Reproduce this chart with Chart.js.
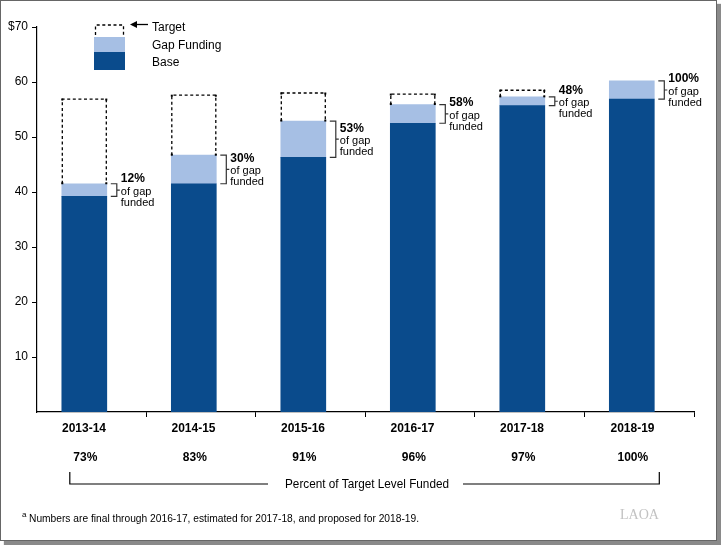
<!DOCTYPE html>
<html>
<head>
<meta charset="utf-8">
<script src="https://cdn.jsdelivr.net/npm/chart.js@4.4.1/dist/chart.umd.min.js"></script>
<style>
  body { margin: 0; background: #fff; }
  #marco {
    position: absolute; left: 0; top: 0; width: 717px; height: 541px;
    box-sizing: border-box; border: 1px solid #666; background: #fff;
    box-shadow: 4px 4px 1px #8a8a8a;
  }
  #myChart { position: absolute; left: 0; top: 0; }
</style>
</head>
<body>
<div id="marco"></div>
<canvas id="myChart" width="721" height="545"></canvas>
<script>
// Datos (miles de millones de dolares)
const years = ['2013-14', '2014-15', '2015-16', '2016-17', '2017-18', '2018-19'];
const baseValues = [39.2, 41.5, 46.3, 52.5, 55.7, 56.9];
const gapValues = [2.3, 5.2, 6.6, 3.4, 1.6, 3.3];
const targetValues = [56.9, 57.6, 58.0, 57.8, 58.5, 60.2];
const gapFundedPct = ['12%', '30%', '53%', '58%', '48%', '100%'];
const targetFundedPct = ['73%', '83%', '91%', '96%', '97%', '100%'];
const yTicks = [10, 20, 30, 40, 50, 60, 70];

const azulOscuro = '#0a4b8c';
const azulClaro = '#a6bfe4';
const fuente = "'Liberation Sans', Arial, sans-serif";

Chart.defaults.font.family = fuente;
Chart.defaults.color = '#000';

// Dibuja la meta punteada, las llaves y los textos extra
const anotaciones = {
  id: 'anotaciones',
  afterDraw(chart) {
    const ctx = chart.ctx;
    const y = chart.scales.y;
    const gapMeta = chart.getDatasetMeta(1);
    ctx.save();

    years.forEach((year, i) => {
      const bar = gapMeta.data[i];
      const left = bar.x - bar.width / 2;
      const right = bar.x + bar.width / 2;
      const top = y.getPixelForValue(baseValues[i] + gapValues[i]);
      const bottom = y.getPixelForValue(baseValues[i]);
      const tgt = y.getPixelForValue(targetValues[i]);

      // caja punteada de la meta
      if (top - tgt > 1) {
        ctx.strokeStyle = '#000';
        ctx.lineWidth = 1.3;
        ctx.setLineDash([3, 2.6]);
        ctx.beginPath();
        ctx.moveTo(left + 0.5, top);
        ctx.lineTo(left + 0.5, tgt);
        ctx.lineTo(right - 0.5, tgt);
        ctx.lineTo(right - 0.5, top);
        ctx.stroke();
        ctx.setLineDash([]);
        ctx.fillStyle = '#000';
        [[left, tgt], [right - 1, tgt], [left, top - 1], [right - 1, top - 1]].forEach(p => {
          ctx.fillRect(p[0] - 0.5, p[1] - 0.5, 2, 2);
        });
      }

      // llave del porcentaje de brecha
      const bx = right + 4;
      const mid = (top + bottom) / 2;
      ctx.strokeStyle = '#333';
      ctx.lineWidth = 1.2;
      ctx.beginPath();
      ctx.moveTo(bx, top);
      ctx.lineTo(bx + 6, top);
      ctx.lineTo(bx + 6, bottom);
      ctx.lineTo(bx, bottom);
      ctx.moveTo(bx + 6, mid);
      ctx.lineTo(bx + 9, mid);
      ctx.stroke();

      ctx.fillStyle = '#000';
      ctx.textAlign = 'left';
      ctx.textBaseline = 'middle';
      ctx.font = 'bold 12px ' + fuente;
      ctx.fillText(gapFundedPct[i], bx + 10, mid - 11);
      ctx.font = '11px ' + fuente;
      ctx.fillText('of gap', bx + 10, mid + 2);
      ctx.fillText('funded', bx + 10, mid + 13);

      // porcentaje de la meta financiado
      ctx.textAlign = 'center';
      ctx.font = 'bold 12px ' + fuente;
      ctx.fillText(targetFundedPct[i], bar.x + 1, 458);
    });

    // corchete inferior
    const first = gapMeta.data[0];
    const last = gapMeta.data[years.length - 1];
    const bl = first.x - first.width / 2 + 8;
    const br = last.x + last.width / 2 + 5;
    ctx.strokeStyle = '#000';
    ctx.lineWidth = 1.2;
    ctx.beginPath();
    ctx.moveTo(bl, 472); ctx.lineTo(bl, 484); ctx.lineTo(268, 484);
    ctx.moveTo(463, 484); ctx.lineTo(br, 484); ctx.lineTo(br, 472);
    ctx.stroke();
    ctx.font = '12px ' + fuente;
    ctx.textAlign = 'center';
    ctx.fillText('Percent of Target Level Funded', 367, 485, 164);

    // leyenda
    ctx.setLineDash([3, 2.6]);
    ctx.lineWidth = 1.3;
    ctx.beginPath();
    ctx.moveTo(95.5, 35); ctx.lineTo(95.5, 25); ctx.lineTo(123.5, 25); ctx.lineTo(123.5, 35);
    ctx.stroke();
    ctx.setLineDash([]);
    ctx.fillStyle = azulClaro;
    ctx.fillRect(94, 37, 31, 15);
    ctx.fillStyle = azulOscuro;
    ctx.fillRect(94, 52, 31, 18);
    ctx.strokeStyle = '#000';
    ctx.beginPath();
    ctx.moveTo(148, 24.5); ctx.lineTo(135, 24.5);
    ctx.stroke();
    ctx.fillStyle = '#000';
    ctx.beginPath();
    ctx.moveTo(130, 24.5); ctx.lineTo(137, 21); ctx.lineTo(137, 28); ctx.closePath();
    ctx.fill();
    ctx.textAlign = 'left';
    ctx.font = '12px ' + fuente;
    ctx.fillText('Target', 152, 28);
    ctx.fillText('Gap Funding', 152, 46);
    ctx.fillText('Base', 152, 63);

    // nota al pie
    ctx.font = '8px ' + fuente;
    ctx.fillText('a', 22, 515);
    ctx.font = '11px ' + fuente;
    ctx.fillText('Numbers are final through 2016-17, estimated for 2017-18, and proposed for 2018-19.', 29, 519, 390);

    // logo
    ctx.fillStyle = '#c2c2c2';
    ctx.font = "15px 'Liberation Serif', serif";
    ctx.fillText('LAOA', 620, 515, 39);

    ctx.restore();
  }
};

const chart = new Chart(document.getElementById('myChart'), {
  type: 'bar',
  data: {
    datasets: [
      {
        label: 'Base',
        data: baseValues.map((v, i) => ({ x: i, y: v })),
        backgroundColor: azulOscuro,
        borderWidth: 0
      },
      {
        label: 'Gap Funding',
        data: gapValues.map((v, i) => ({ x: i, y: v })),
        backgroundColor: azulClaro,
        borderWidth: 0
      }
    ]
  },
  options: {
    responsive: false,
    animation: false,
    barThickness: 45,
    layout: { padding: { left: 0, top: 27, right: 23, bottom: 0 } },
    plugins: { legend: { display: false }, tooltip: { enabled: false } },
    scales: {
      x: {
        type: 'linear',
        min: -0.432,
        max: 5.577,
        stacked: true,
        offset: false,
        afterBuildTicks: (scale) => {
          scale.ticks = years.map((y, i) => ({ value: i < years.length - 1 ? i + 0.568 : 5.577 }));
        },
        afterFit: (scale) => { scale.height = 133; },
        grid: { offset: false, drawOnChartArea: false, color: '#000', tickLength: 5 },
        border: { color: '#000', width: 1.2 },
        ticks: {
          autoSkip: false,
          maxRotation: 0,
          padding: 4,
          labelOffset: -62.5,
          font: { size: 12, weight: 'bold' },
          callback: (value, index) => years[index]
        }
      },
      y: {
        stacked: true,
        min: 0,
        max: 70,
        afterBuildTicks: (scale) => { scale.ticks = yTicks.map(v => ({ value: v })); },
        afterFit: (scale) => { scale.width = 37; },
        grid: { drawOnChartArea: false, color: '#000', tickLength: 5 },
        border: { color: '#000', width: 1.2 },
        ticks: {
          padding: 4,
          font: { size: 12 },
          callback: (v) => v === 70 ? '$70' : v
        }
      }
    }
  },
  plugins: [anotaciones]
});
</script>
</body>
</html>
